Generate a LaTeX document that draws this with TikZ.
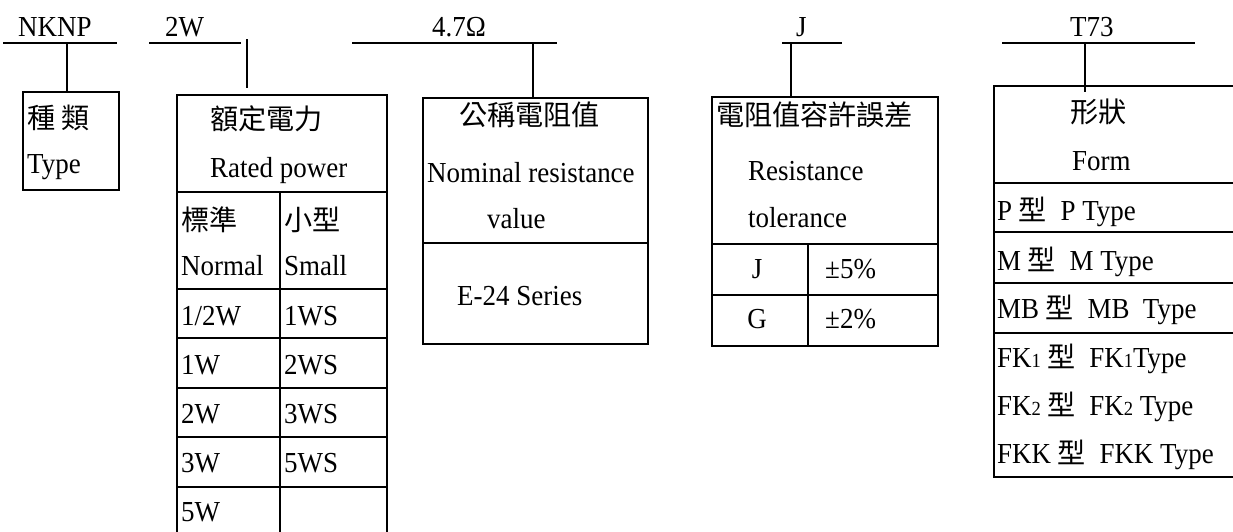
\documentclass[tikz,border=0pt]{standalone}
\usepackage{fontspec}
\setmainfont[FakeStretch=0.93]{Liberation Serif}
\newfontfamily\cjk[Scale=0.97]{Noto Sans CJK TC}
\newcommand{\zh}[1]{{\cjk #1}}
\newcommand{\sm}[1]{{\fontsize{20}{21}\selectfont #1}}
\usepackage{tikz}
\usetikzlibrary{positioning}

\begin{document}
\begin{tikzpicture}[x=1pt, y=-1pt,
        box/.style={line width=1.6pt, black},
        rule/.style={line width=1.2pt, black},
        txt/.style={anchor=base west, inner sep=0pt, font=\fontsize{29}{32}\selectfont},
        ctr/.style={anchor=base, inner sep=0pt, font=\fontsize{29}{32}\selectfont}]
    \useasboundingbox (0,0) rectangle (1233,531);

    % header lines
    \coordinate (h1a) at (3,43);    \coordinate (h1b) at (117,43);
    \coordinate (h2a) at (149,43);  \coordinate (h2b) at (241,43);
    \coordinate (h3a) at (352,43);  \coordinate (h3b) at (557,43);
    \coordinate (h4a) at (782,43);  \coordinate (h4b) at (842,43);
    \coordinate (h5a) at (1002,43); \coordinate (h5b) at (1195,43);

    % drop points
    \coordinate (d1) at (67,43);    \coordinate (t1) at (67,92);
    \coordinate (d2) at (247,39);   \coordinate (t2) at (247,88);
    \coordinate (d3) at (533,43);   \coordinate (t3) at (533,98);
    \coordinate (d4) at (791,43);   \coordinate (t4) at (791,97);
    \coordinate (d5) at (1085,43);  \coordinate (t5) at (1085,92);

    \node[txt] (kind)  at (18,36)   {NKNP};
    \node[txt] (watt)  at (165,36)  {2W};
    \node[txt] (ohm)   at (432,36)  {4.7Ω};
    \node[txt] (tol)   at (796,36)  {J};
    \node[txt] (form)  at (1070,36) {T73};

    \draw[rule] (h1a) -- (h1b);
    \draw[rule] (h2a) -- (h2b);
    \draw[rule] (h3a) -- (h3b);
    \draw[rule] (h4a) -- (h4b);
    \draw[rule] (h5a) -- (h5b);

    \draw[rule] (d1) -- (t1);
    \draw[rule] (d2) -- (t2);
    \draw[rule] (d3) -- (t3);
    \draw[rule] (d4) -- (t4);
    \draw[rule] (d5) -- (t5);

    % box 1: type
    \draw[box] (23,92) rectangle (119,190);
    \node[txt] (k1) at (27,128) {\zh{種\ 類}};
    \node[txt] (k2) at (27,173) {Type};

    % box 2: rated power
    \draw[box] (177,95) rectangle (387,545);
    \draw[box] (177,192) -- (387,192);
    \draw[box] (280,192) -- (280,545);
    \foreach \y in {289,338,388,437,487}
        \draw[box] (177,\y) -- (387,\y);
    \node[txt] (w1) at (210,129) {\zh{額定電力}};
    \node[txt] (w2) at (210,177) {Rated power};
    \node[txt] (wn1) at (181,230) {\zh{標準}};
    \node[txt] (wn2) at (181,275) {Normal};
    \node[txt] (ws1) at (284,230) {\zh{小型}};
    \node[txt] (ws2) at (284,275) {Small};
    \node[txt] (wn3) at (181,325) {1/2W};
    \node[txt] (wn4) at (181,374) {1W};
    \node[txt] (wn5) at (181,423) {2W};
    \node[txt] (wn6) at (181,472) {3W};
    \node[txt] (wn7) at (181,521) {5W};
    \node[txt] (ws3) at (284,325) {1WS};
    \node[txt] (ws4) at (284,374) {2WS};
    \node[txt] (ws5) at (284,423) {3WS};
    \node[txt] (ws6) at (284,472) {5WS};

    % box 3: nominal resistance
    \draw[box] (423,98) rectangle (648,344);
    \draw[box] (423,243) -- (648,243);
    \node[txt] (o1) at (459,125) {\zh{公稱電阻值}};
    \node[txt] (o2) at (427,182) {Nominal resistance};
    \node[txt] (o3) at (487,228) {value};
    \node[txt] (o4) at (457,305) {E-24 Series};

    % box 4: tolerance
    \draw[box] (712,97) rectangle (938,346);
    \draw[box] (712,244) -- (938,244);
    \draw[box] (712,295) -- (938,295);
    \draw[box] (808,244) -- (808,346);
    \node[txt] (j1) at (716,125) {\zh{電阻值容許誤差}};
    \node[txt] (j2) at (748,180) {Resistance};
    \node[txt] (j3) at (748,227) {tolerance};
    \node[ctr] (j4) at (757,278) {J};
    \node[txt] (j5) at (825,278) {±5\%};
    \node[ctr] (j6) at (757,328) {G};
    \node[txt] (j7) at (825,328) {±2\%};

    % box 5: form
    \draw[box] (994,86) rectangle (1245,477);
    \foreach \y in {183,232,283,333}
        \draw[box] (994,\y) -- (1245,\y);
    \node[txt] (f1) at (1070,122) {\zh{形狀}};
    \node[txt] (f2) at (1072,170) {Form};
    \node[txt] (f3) at (997,220) {P \zh{型}\ \ P Type};
    \node[txt] (f4) at (997,270) {M \zh{型}\ \ M Type};
    \node[txt] (f5) at (997,318) {MB \zh{型}\ \ MB\ \ Type};
    \node[txt] (f6) at (997,367) {FK\sm{1} \zh{型}\ \ FK\sm{1}Type};
    \node[txt] (f7) at (997,415) {FK\sm{2} \zh{型}\ \ FK\sm{2} Type};
    \node[txt] (f8) at (997,463) {FKK \zh{型}\ \ FKK Type};
\end{tikzpicture}
\end{document}
